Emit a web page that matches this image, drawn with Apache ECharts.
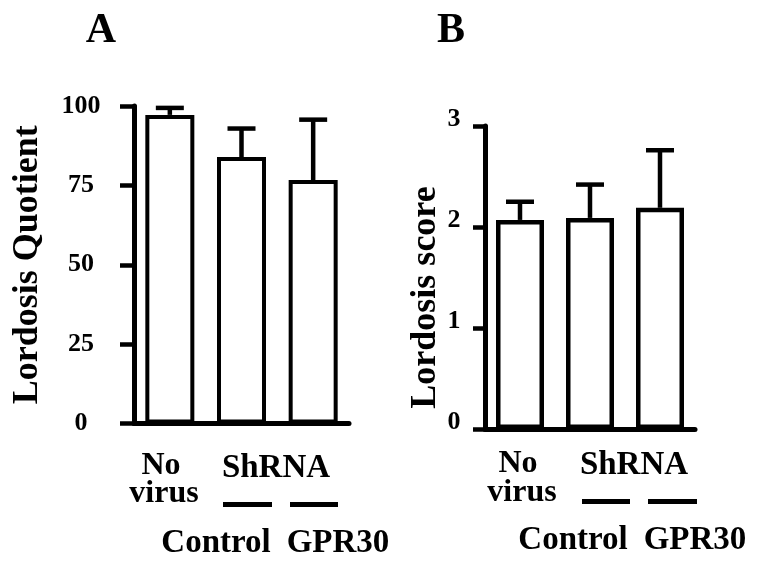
<!DOCTYPE html>
<html>
<head>
<meta charset="utf-8">
<script src="https://cdn.jsdelivr.net/npm/echarts@6/dist/echarts.min.js"></script>
<style>
html,body{margin:0;padding:0;background:#fff;}
#chart{width:762px;height:570px;}
</style>
</head>
<body>
<div id="chart"></div>
<script>
// ---- data ----
const categories = ['No virus', 'Control', 'GPR30'];
const noVirusLines = ['No', 'virus'];
const groupLabel = 'ShRNA';
const panelLetters = ['A', 'B'];
const yTitles = ['Lordosis Quotient', 'Lordosis score'];
const quotientMean = [97.2, 83.9, 76.7];
const quotientUpper = [99.4, 92.9, 95.7];
const scoreMean = [2.07, 2.09, 2.19];
const scoreUpper = [2.25, 2.42, 2.76];
const quotientAxis = { min: 0, max: 100, interval: 25 };
const scoreAxis = { min: 0, max: 3, interval: 1 };

const FONT = '"Liberation Serif", "Times New Roman", serif';
const chart = echarts.init(document.getElementById('chart'), null, { renderer: 'canvas' });

function errRender(params, api) {
  const x = api.value(0);
  const base = api.coord([x, api.value(1)]);
  const top = api.coord([x, api.value(2)]);
  const half = 14;
  const style = { stroke: '#000', lineWidth: 4.5 };
  return {
    type: 'group',
    children: [
      { type: 'line', shape: { x1: base[0], y1: base[1], x2: top[0], y2: top[1] }, style: style },
      { type: 'line', shape: { x1: top[0] - half, y1: top[1], x2: top[0] + half, y2: top[1] }, style: style }
    ]
  };
}

function xAxisCfg(gi) {
  return {
    type: 'category', gridIndex: gi, data: categories,
    axisLine: { lineStyle: { color: '#000', width: 5 } },
    axisTick: { show: false }, axisLabel: { show: false }, splitLine: { show: false }
  };
}
function yAxisCfg(gi, ax, tickLen, margin, title, gap, pad, vAlign, lh) {
  return {
    type: 'value', gridIndex: gi, min: ax.min, max: ax.max, interval: ax.interval,
    axisLine: { show: true, lineStyle: { color: '#000', width: 5 } },
    axisTick: { show: true, length: tickLen, lineStyle: { color: '#000', width: 4.5 } },
    axisLabel: { margin: margin, align: 'center', verticalAlign: vAlign, lineHeight: lh,
      color: '#000', fontFamily: FONT, fontWeight: 'bold', fontSize: 26 },
    splitLine: { show: false },
    name: title, nameLocation: 'middle', nameRotate: 90, nameGap: gap,
    nameTextStyle: { color: '#000', fontFamily: FONT, fontWeight: 'bold', fontSize: 36, padding: pad }
  };
}

const textStyle = (t, x, y, size) => ({
  type: 'text', x: x, y: y,
  style: { text: t, fill: '#000', font: 'bold ' + size + 'px ' + FONT, textAlign: 'center', textVerticalAlign: 'middle' }
});
const dash = (x1, x2, y) => ({
  type: 'line', shape: { x1: x1, y1: y, x2: x2, y2: y }, style: { stroke: '#000', lineWidth: 5 }
});

chart.setOption({
  animation: false,
  backgroundColor: '#fff',
  grid: [
    { left: 134, top: 106, width: 215, height: 317.5 },
    { left: 485, top: 126, width: 210, height: 303 }
  ],
  xAxis: [xAxisCfg(0), xAxisCfg(1)],
  yAxis: [
    yAxisCfg(0, quotientAxis, 14, 53, yTitles[0], 88, [0, 0, 0, 0], 'middle', 30),
    yAxisCfg(1, scoreAxis, 12, 31, yTitles[1], 38, [0, 40, 0, 0], 'bottom', 14)
  ],
  series: [
    { type: 'bar', xAxisIndex: 0, yAxisIndex: 0, data: quotientMean, barWidth: 49,
      itemStyle: { color: '#fff', borderColor: '#000', borderWidth: 4 } },
    { type: 'bar', xAxisIndex: 1, yAxisIndex: 1, data: scoreMean, barWidth: 48,
      itemStyle: { color: '#fff', borderColor: '#000', borderWidth: 4.5 } },
    { type: 'custom', xAxisIndex: 0, yAxisIndex: 0, renderItem: errRender, z: 5,
      data: categories.map((c, i) => [i, quotientMean[i], quotientUpper[i]]) },
    { type: 'custom', xAxisIndex: 1, yAxisIndex: 1, renderItem: errRender, z: 5,
      data: categories.map((c, i) => [i, scoreMean[i], scoreUpper[i]]) }
  ],
  graphic: [
    textStyle(panelLetters[0], 101, 31, 42),
    textStyle(panelLetters[1], 451, 31, 42),
    // panel A x labels
    textStyle(noVirusLines[0], 161, 466, 32),
    textStyle(noVirusLines[1], 164, 494, 32),
    textStyle(groupLabel, 276, 468, 33),
    dash(223, 272, 504.5), dash(290, 338, 504.5),
    textStyle(categories[1], 216, 543, 33),
    textStyle(categories[2], 338, 543, 33),
    // panel B x labels
    textStyle(noVirusLines[0], 518, 464, 32),
    textStyle(noVirusLines[1], 522, 493, 32),
    textStyle(groupLabel, 634, 465, 33),
    dash(582, 630, 501.5), dash(648, 697, 501.5),
    textStyle(categories[1], 573, 540, 33),
    textStyle(categories[2], 695, 540, 33)
  ]
});
</script>
</body>
</html>
